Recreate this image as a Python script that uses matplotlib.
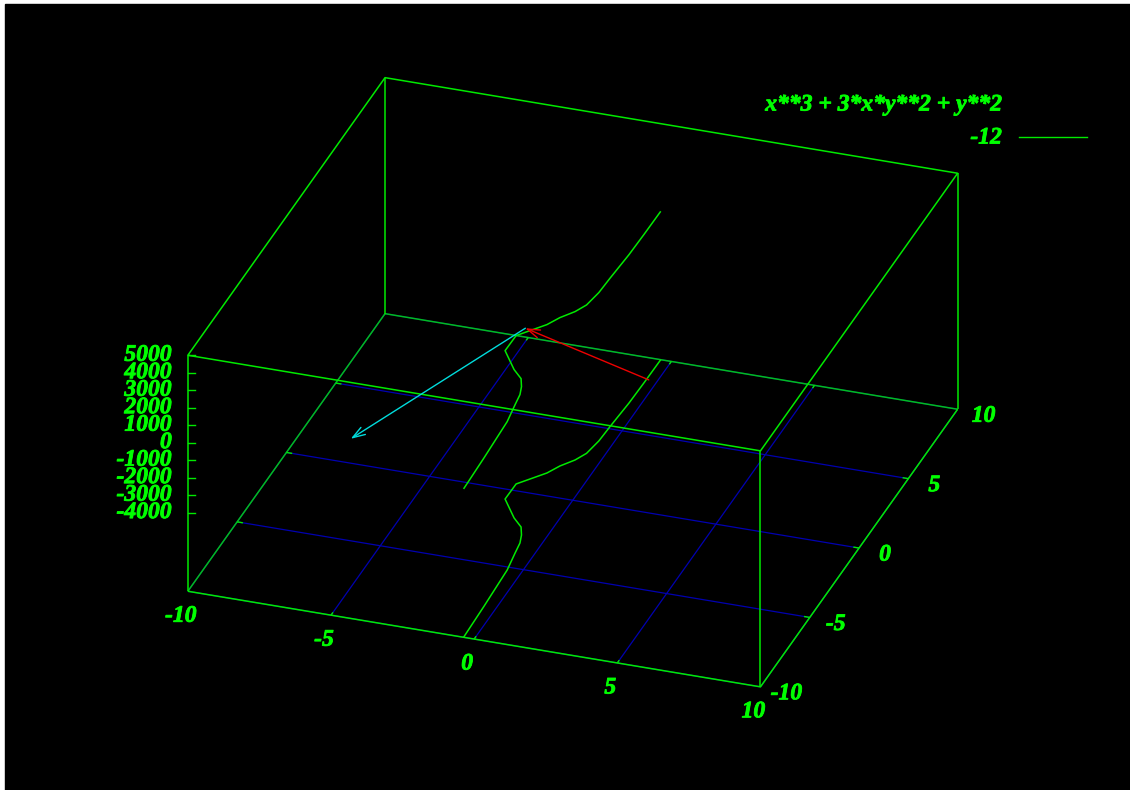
import numpy as np
import matplotlib.pyplot as plt
import matplotlib.patheffects as pe
from matplotlib.patches import Rectangle, FancyArrowPatch

# ranges of the 3d box
x_range = (-10, 10)
y_range = (-10, 10)
z_range = (-4000, 5000)
ticslevel = 0.5
z_base = z_range[0] - ticslevel * (z_range[1] - z_range[0])
z_top = z_range[1]

xy_tics = [-10, -5, 0, 5, 10]
z_tics = [-4000, -3000, -2000, -1000, 0, 1000, 2000, 3000, 4000, 5000]

func_title = 'x**3 + 3*x*y**2 + y**2'
contour_level = -12

# contour line x**3 + 3*x*y**2 + y**2 = -12 (points along the curve)
contour_y = [-10, -7.8, -5.2, -4.02, -3.32, -2.79, -2.28, -1.77, -0.65, 0.44,
             1.48, 2.07, 2.62, 3.17, 4.10, 5.14, 6.86, 8.33, 10]
contour_x = [-0.37, -0.42, -0.50, -0.63, -0.70, -0.83, -1.02, -1.44, -2.14, -2.13,
             -1.41, -1.16, -0.82, -0.61, -0.50, -0.47, -0.40, -0.38, -0.37]

# arrows (from, to) in data coordinates
arrow_red = ((3, -1, 0), (-2, 1, 0))
arrow_cyan = ((-2, 1, 0), (-5, -8, 0))

# view settings
ROT_X, ROT_Z = 61, 19
SCALE = 302.8
CENTER = (572.75, 500.25)
BOX_H = 236

GREEN = '#00ea00'
TEXT_GREEN = '#00ff00'
BLUE = '#0000b0'
CYAN = '#00dcdc'
RED = '#ee0000'

font = dict(family='Liberation Serif', weight='bold', style='italic', size=17, color=TEXT_GREEN,
            path_effects=[pe.withStroke(linewidth=0.6, foreground=TEXT_GREEN)])


def project(x, y, z):
    x = np.asarray(x, float)
    y = np.asarray(y, float)
    z = np.asarray(z, float)
    xn = (x - sum(x_range) / 2) / ((x_range[1] - x_range[0]) / 2)
    yn = (y - sum(y_range) / 2) / ((y_range[1] - y_range[0]) / 2)
    th = np.radians(ROT_Z)
    ph = np.radians(ROT_X)
    sx = CENTER[0] + SCALE * (xn * np.cos(th) + yn * np.sin(th))
    sy = (CENTER[1] - SCALE * np.cos(ph) * (-xn * np.sin(th) + yn * np.cos(th))
          - (z - z_base) / (z_top - z_base) * BOX_H)
    return sx, sy


def line3d(ax, xs, ys, zs, **kw):
    sx, sy = project(xs, ys, zs)
    ax.plot(sx, sy, solid_capstyle='butt', **kw)


fig = plt.figure(figsize=(11.3, 7.9), dpi=100, facecolor='white')
ax = fig.add_axes([0, 0, 1, 1])
ax.set_xlim(0, 1130)
ax.set_ylim(790, 0)
ax.axis('off')
ax.add_patch(Rectangle((5, 4), 1125, 786, color='black', zorder=0))

x0, x1 = x_range
y0, y1 = y_range

# base grid
for t in xy_tics:
    line3d(ax, [t, t], [y0, y1], [z_base, z_base], color=BLUE, lw=0.9, zorder=1)
    line3d(ax, [x0, x1], [t, t], [z_base, z_base], color=BLUE, lw=0.9, zorder=1)

# back edges of the base (shared with the grid)
line3d(ax, [x0, x0], [y0, y1], [z_base, z_base], color=GREEN, lw=1.1, alpha=0.8, zorder=2)
line3d(ax, [x0, x1], [y1, y1], [z_base, z_base], color=GREEN, lw=1.1, alpha=0.8, zorder=2)

# front base edges, top edges and verticals
line3d(ax, [x0, x1, x1], [y0, y0, y1], [z_base] * 3, color=GREEN, lw=1.1, zorder=3)
line3d(ax, [x0, x1, x1, x0, x0], [y0, y0, y1, y1, y0], [z_top] * 5, color=GREEN, lw=1.1, zorder=3)
for cx, cy in [(x0, y0), (x1, y0), (x1, y1), (x0, y1)]:
    line3d(ax, [cx, cx], [cy, cy], [z_base, z_top], color=GREEN, lw=1.1, zorder=3)

# tic marks on the base edges
tl = 0.2
for t in xy_tics[1:-1]:
    line3d(ax, [t, t], [y0, y0 + tl], [z_base] * 2, color=GREEN, lw=1.0, zorder=3)
    line3d(ax, [t, t], [y1, y1 - tl], [z_base] * 2, color=GREEN, lw=1.0, zorder=3)
    line3d(ax, [x0, x0 + tl], [t, t], [z_base] * 2, color=GREEN, lw=1.0, zorder=3)
    line3d(ax, [x1, x1 - tl], [t, t], [z_base] * 2, color=GREEN, lw=1.0, zorder=3)

# z tics and labels on the front-left vertical
for zt in z_tics:
    sx, sy = project(x0, y0, zt)
    ax.plot([sx, sx + 7], [sy, sy], color=GREEN, lw=1.0, zorder=3)
    ax.text(sx - 16, sy, str(zt), ha='right', va='center', **font)

# x and y tic labels
for t in xy_tics:
    sx, sy = project(t, y0, z_base)
    ax.text(sx - 7, sy + 25, str(t), ha='center', va='center', **font)
    sx, sy = project(x1, t, z_base)
    ax.text(sx + 26, sy + 7, str(t), ha='center', va='center', **font)

# contour on the base and on the surface level
line3d(ax, contour_x, contour_y, [z_base] * len(contour_x), color=GREEN, lw=1.1, zorder=4)
line3d(ax, contour_x, contour_y, [contour_level] * len(contour_x), color=GREEN, lw=1.1, zorder=4)

# arrows
for (p0, p1), col in [(arrow_red, RED), (arrow_cyan, CYAN)]:
    a = project(*p0)
    b = project(*p1)
    ax.add_patch(FancyArrowPatch((float(a[0]), float(a[1])), (float(b[0]), float(b[1])),
                                 arrowstyle='->,head_length=0.9,head_width=0.3',
                                 mutation_scale=10, color=col, lw=1.0, shrinkA=0, shrinkB=0,
                                 zorder=5))

# key
ax.text(1003, 105, func_title, ha='right', va='center', **font)
ax.text(1002, 138, str(contour_level), ha='right', va='center', **font)
ax.plot([1019, 1087], [137, 137], color=GREEN, lw=1.0)

fig.savefig('out.png', dpi=100, facecolor=fig.get_facecolor())
